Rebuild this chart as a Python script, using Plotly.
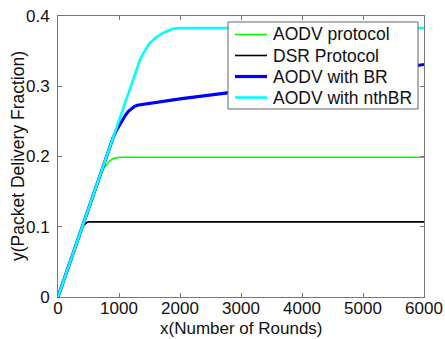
import plotly.graph_objects as go

# Data
aodv_x = [0, 600, 700, 750, 800, 850, 900, 950, 1000, 6000]
aodv_y = [0, 0.152, 0.175, 0.183, 0.189, 0.194, 0.197, 0.1985, 0.199, 0.199]

dsr_x = [0, 380, 420, 450, 480, 500, 6000]
dsr_y = [0, 0.096, 0.102, 0.105, 0.1065, 0.107, 0.107]

br_x = [0, 850, 900, 950, 1000, 1050, 1100, 1150, 1200, 1250, 1300, 2000, 3000, 4000, 5000, 6000]
br_y = [0, 0.215, 0.226, 0.236, 0.244, 0.251, 0.258, 0.264, 0.268, 0.271, 0.273, 0.282, 0.293, 0.305, 0.318, 0.331]

nth_x = [0, 1300, 1350, 1400, 1450, 1500, 1600, 1700, 1800, 1900, 2000, 6000]
nth_y = [0, 0.329, 0.339, 0.347, 0.355, 0.361, 0.369, 0.375, 0.379, 0.382, 0.383, 0.383]

series_names = ["AODV protocol", "DSR Protocol", "AODV with BR", "AODV with nthBR"]

x_ticks = [0, 1000, 2000, 3000, 4000, 5000, 6000]
y_ticks = [0, 0.1, 0.2, 0.3, 0.4]
y_tick_labels = ["0", "0.1", "0.2", "0.3", "0.4"]
x_title = "x(Number of Rounds)"
y_title = "y(Packet Delivery Fraction)"

W, H = 445, 339
ML, MR, MT, MB = 58, 21, 16, 42
PW, PH = W - ML - MR, H - MT - MB


def px(xp):
    return (xp - ML) / PW


def py(yp):
    return (H - MB - yp) / PH


styles = [("#00ff00", 1.6), ("#000000", 1.6), ("#0000ff", 3.2), ("#00ffff", 2.6)]
data = [(aodv_x, aodv_y), (dsr_x, dsr_y), (br_x, br_y), (nth_x, nth_y)]

fig = go.Figure()
for (xs, ys), name, (col, w) in zip(data, series_names, styles):
    fig.add_trace(go.Scatter(x=xs, y=ys, mode="lines", name=name,
                             line=dict(color=col, width=w), showlegend=False))

fam = "Arial, Liberation Sans, sans-serif"
tick_font = dict(family=fam, size=17, color="#111111")
title_font = dict(family=fam, size=17.5, color="#111111")
axis_common = dict(showline=True, linecolor="#777777", linewidth=1, mirror="ticks",
                   ticks="inside", ticklen=4, tickcolor="#777777", showgrid=False,
                   zeroline=False, tickfont=tick_font, automargin=False)

# Manual legend box (matches reference layout)
shapes = [dict(type="rect", xref="paper", yref="paper",
               x0=px(228), x1=px(418), y0=py(109), y1=py(22),
               fillcolor="white", line=dict(color="#666666", width=1), layer="above")]
annotations = [
    dict(xref="paper", yref="paper", x=px(241), y=py(328.5), xanchor="center", yanchor="middle",
         text=x_title, showarrow=False, font=dict(family=fam, size=17, color="#111111")),
    dict(xref="paper", yref="paper", x=px(18), y=py(156), xanchor="center", yanchor="middle",
         text=y_title, textangle=-90, showarrow=False, font=title_font),
]
row_y = [34.5, 55.5, 76.5, 97.5]
for name, (col, w), ry in zip(series_names, styles, row_y):
    shapes.append(dict(type="line", xref="paper", yref="paper",
                       x0=px(235), x1=px(267), y0=py(ry), y1=py(ry),
                       line=dict(color=col, width=w), layer="above"))
    annotations.append(dict(xref="paper", yref="paper", x=px(271), y=py(ry),
                            xanchor="left", yanchor="middle", text=name, showarrow=False,
                            font=dict(family=fam, size=17.5, color="#111111")))

fig.update_layout(
    width=W, height=H,
    margin=dict(l=ML, r=MR, t=MT, b=MB),
    paper_bgcolor="white", plot_bgcolor="white",
    font=dict(family=fam, size=17, color="#111111"),
    xaxis=dict(range=[0, 6000], tickvals=x_ticks, ticklabelstandoff=-4, **axis_common),
    yaxis=dict(range=[0, 0.4], tickvals=y_ticks, ticktext=y_tick_labels, ticklabelstandoff=4,
               **axis_common),
    shapes=shapes,
    annotations=annotations,
    showlegend=False,
)

fig.write_html("out.html")
